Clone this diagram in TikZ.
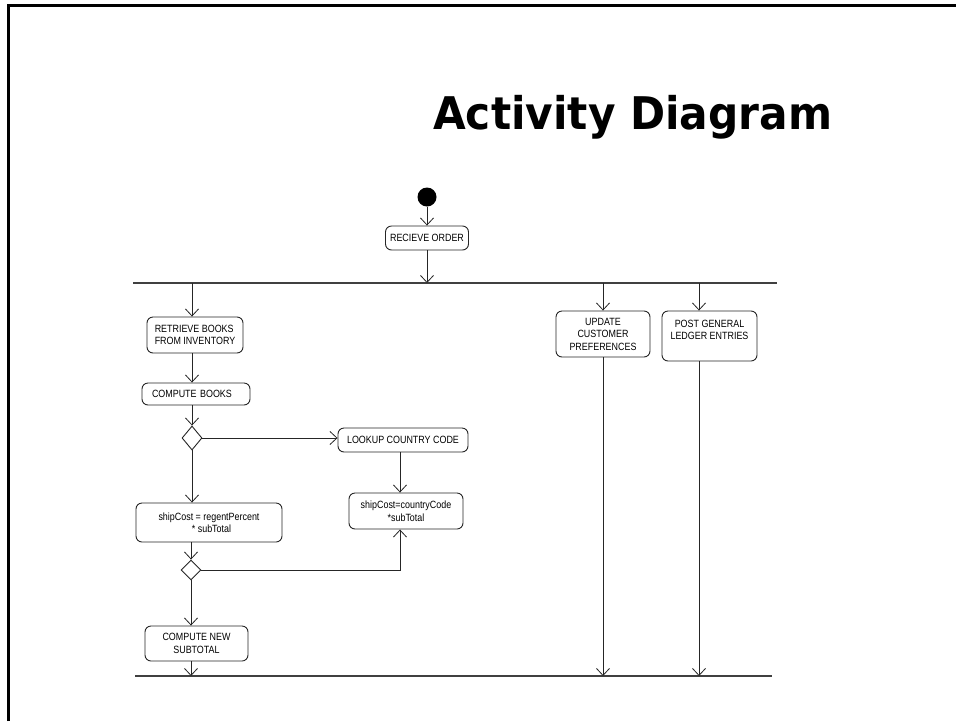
\documentclass[tikz,border=0pt]{standalone}
\usepackage{fontspec}
\usetikzlibrary{shapes.geometric,arrows.meta,calc}
\newfontfamily\boxfont[FakeStretch=0.85]{Liberation Sans}
\newfontfamily\titlefont[FakeStretch=0.94]{DejaVu Sans}
\begin{document}
\begin{tikzpicture}[x=1pt,y=-1pt,
  act/.style={draw=black!85, line width=0.9pt, rounded corners=6pt,
    font=\boxfont\fontsize{10.5}{12.5}\selectfont, inner sep=2pt, align=center},
  dec/.style={draw=black!85, line width=0.9pt, diamond, inner sep=0pt,
    minimum width=20pt, minimum height=24pt},
  arr/.style={draw=black!85, line width=0.9pt,
    -{Straight Barb[length=7pt,width=13pt,line width=0.8pt]}},
  bar/.style={draw=black!75, line width=1.4pt},
  ln/.style={draw=black!85, line width=0.9pt}]
\useasboundingbox (0,0) rectangle (956,721);
\fill[white] (0,0) rectangle (956,721);
% frame
\draw[line width=3pt] (8,721) -- (8,5) -- (956,5);
% title
\node[anchor=base west, inner sep=0pt,
  font=\titlefont\bfseries\fontsize{45}{50}\selectfont] (title) at (433,129) {Activity Diagram};
% nodes
\node[circle, fill=black, inner sep=0pt, minimum size=19pt] (start) at (427,197) {};
\node[act, minimum width=83pt, minimum height=24pt] (recv) at (427,238) {RECIEVE ORDER};
\coordinate (forkL) at (133,283);
\coordinate (forkR) at (777,283);
\coordinate (joinL) at (135,676);
\coordinate (joinR) at (772,676);
\coordinate (col) at (192,0);
\coordinate (pc) at (699,0);
\node[act, align=left, minimum width=96pt, minimum height=36pt] (retr) at (195,335) {RETRIEVE BOOKS\\FROM INVENTORY};
\node[act, text width=88pt, align=left, inner xsep=10pt, minimum height=22pt] (comp) at (196,394) {COMPUTE BOOKS};
\node[dec] (dia1) at (192,438) {};
\node[act, minimum width=130pt, minimum height=24pt] (look) at (403,440) {LOOKUP COUNTRY CODE};
\node[act, minimum width=114pt, minimum height=36pt] (ship2) at (406,511) {shipCost=countryCode\\*subTotal};
\node[act, minimum width=146pt, minimum height=39pt] (ship1) at (209,522.5) {shipCost = regentPercent\\\ \ * subTotal};
\node[dec, minimum height=20pt] (dia2) at (191,570) {};
\node[act, minimum width=103pt, minimum height=35pt] (cns) at (196.5,643.5) {COMPUTE NEW\\SUBTOTAL};
\node[act, minimum width=94pt, minimum height=46pt] (upd) at (603,334) {UPDATE\\CUSTOMER\\PREFERENCES};
\node[act, minimum width=95pt, minimum height=50pt] (post) at (709.5,336) {POST GENERAL\\LEDGER ENTRIES\\\mbox{}};
% bars
\draw[bar] (forkL) -- (forkR);
\draw[bar] (joinL) -- (joinR);
% connectors
\draw[arr] (start) -- (recv);
\draw[arr] (recv.south) -- (recv.south |- forkL);
\draw[arr] (forkL -| col) -- (retr.north -| col);
\draw[arr] (retr.south -| col) -- (comp.north -| col);
\draw[arr] (comp.south -| dia1) -- (dia1.north);
\draw[arr] (dia1.east) -- (dia1.east -| look.west);
\draw[arr] ([xshift=-3pt]look.south) -- ([xshift=-3pt]look.south |- ship2.north);
\draw[arr] (dia1.south) -- (dia1.south |- ship1.north);
\draw[arr] (ship1.south -| dia2) -- (dia2.north);
\draw[arr] (dia2.east) -| ([xshift=-6pt]ship2.south);
\draw[arr] (dia2.south) -- (dia2.south |- cns.north);
\draw[arr] (cns.south -| dia2) -- (joinL -| dia2);
\draw[arr] (forkL -| upd) -- (upd.north);
\draw[arr] (forkL -| pc) -- (post.north -| pc);
\draw[arr] (upd.south) -- (joinL -| upd);
\draw[arr] (post.south -| pc) -- (joinL -| pc);
\end{tikzpicture}
\end{document}
